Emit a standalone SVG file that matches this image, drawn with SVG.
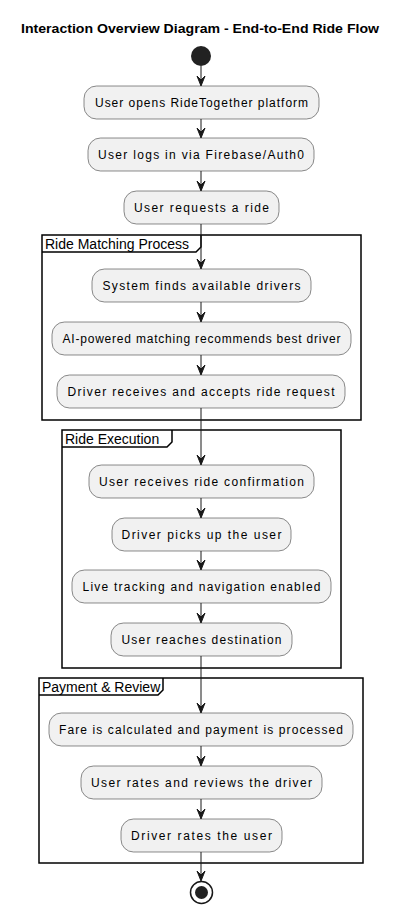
<svg xmlns="http://www.w3.org/2000/svg" width="403" height="916" viewBox="0 0 403 916">
<defs>
<style>
.bg{fill:#ffffff}
.title{font-family:"Liberation Sans",Arial,sans-serif;font-size:13px;font-weight:bold;fill:#000}
.act rect{fill:#F1F1F1;stroke:#181818;stroke-width:0.5}
.act text{font-family:"Liberation Sans",Arial,sans-serif;font-size:12px;fill:#000;text-anchor:middle}
.frame rect{fill:none;stroke:#000;stroke-width:1.5}
.frame polyline{fill:none;stroke:#000;stroke-width:1.5}
.frame text{font-family:"Liberation Sans",Arial,sans-serif;font-size:14px;fill:#000}
.conn line{stroke:#181818;stroke-width:1}
.conn path{fill:#181818;stroke:#181818;stroke-width:1}
</style>
</defs>
<rect class="bg" x="0" y="0" width="403" height="916"/>
<text class="title" x="21" y="33" textLength="358" lengthAdjust="spacingAndGlyphs">Interaction Overview Diagram - End-to-End Ride Flow</text>

<g id="frame-matching" class="frame">
<rect x="42" y="235" width="319" height="185"/>
<polyline points="42,252 196,252 201,247 201,235"/>
<text x="45" y="249">Ride Matching Process</text>
</g>
<g id="frame-execution" class="frame">
<rect x="62" y="430" width="279" height="238"/>
<polyline points="62,447 167,447 172,442 172,430"/>
<text x="65" y="444">Ride Execution</text>
</g>
<g id="frame-payment" class="frame">
<rect x="39" y="678" width="324" height="185"/>
<polyline points="39,695 158,695 163,690 163,678"/>
<text x="42" y="692">Payment &amp; Review</text>
</g>

<g id="start"><circle cx="201" cy="56" r="10" fill="#222222"/></g>

<g id="a1" class="act"><rect x="84" y="86" width="235" height="33" rx="12.5"/><text x="201.5" y="107" textLength="213" lengthAdjust="spacing">User opens RideTogether platform</text></g>
<g id="a2" class="act"><rect x="88" y="138" width="226" height="33" rx="12.5"/><text x="201" y="159" textLength="206" lengthAdjust="spacing">User logs in via Firebase/Auth0</text></g>
<g id="a3" class="act"><rect x="124" y="191" width="155" height="33" rx="12.5"/><text x="201.5" y="212" textLength="135" lengthAdjust="spacing">User requests a ride</text></g>

<g id="a4" class="act"><rect x="92" y="269" width="219" height="33" rx="12.5"/><text x="201.5" y="290" textLength="198" lengthAdjust="spacing">System finds available drivers</text></g>
<g id="a5" class="act"><rect x="52" y="322" width="299" height="33" rx="12.5"/><text x="201.5" y="343" textLength="278" lengthAdjust="spacing">AI-powered matching recommends best driver</text></g>
<g id="a6" class="act"><rect x="57" y="375" width="288" height="33" rx="12.5"/><text x="201" y="396" textLength="267" lengthAdjust="spacing">Driver receives and accepts ride request</text></g>

<g id="a7" class="act"><rect x="89" y="465" width="225" height="33" rx="12.5"/><text x="201.5" y="486" textLength="205" lengthAdjust="spacing">User receives ride confirmation</text></g>
<g id="a8" class="act"><rect x="112" y="518" width="179" height="33" rx="12.5"/><text x="201.5" y="539" textLength="160" lengthAdjust="spacing">Driver picks up the user</text></g>
<g id="a9" class="act"><rect x="72" y="570" width="259" height="33" rx="12.5"/><text x="201.5" y="591" textLength="238" lengthAdjust="spacing">Live tracking and navigation enabled</text></g>
<g id="a10" class="act"><rect x="111" y="623" width="181" height="33" rx="12.5"/><text x="201.5" y="644" textLength="160" lengthAdjust="spacing">User reaches destination</text></g>

<g id="a11" class="act"><rect x="49" y="713" width="304" height="33" rx="12.5"/><text x="201" y="734" textLength="284" lengthAdjust="spacing">Fare is calculated and payment is processed</text></g>
<g id="a12" class="act"><rect x="81" y="766" width="241" height="33" rx="12.5"/><text x="201.5" y="787" textLength="221" lengthAdjust="spacing">User rates and reviews the driver</text></g>
<g id="a13" class="act"><rect x="121" y="819" width="161" height="33" rx="12.5"/><text x="201.5" y="840" textLength="141" lengthAdjust="spacing">Driver rates the user</text></g>

<g id="end"><circle cx="201.5" cy="892.5" r="11" fill="#ffffff" stroke="#181818" stroke-width="1.5"/><circle cx="201.5" cy="892.5" r="6.5" fill="#222222"/></g>

<g id="connectors" class="conn">
<line x1="201" y1="66" x2="201" y2="85"/><path d="M197,76 L201,86 L205,76 L201,80 Z"/>
<line x1="201" y1="119" x2="201" y2="137"/><path d="M197,128 L201,138 L205,128 L201,132 Z"/>
<line x1="201" y1="171" x2="201" y2="190"/><path d="M197,181 L201,191 L205,181 L201,185 Z"/>
<line x1="201" y1="224" x2="201" y2="268"/><path d="M197,259 L201,269 L205,259 L201,263 Z"/>
<line x1="201" y1="302" x2="201" y2="321"/><path d="M197,312 L201,322 L205,312 L201,316 Z"/>
<line x1="201" y1="355" x2="201" y2="374"/><path d="M197,365 L201,375 L205,365 L201,369 Z"/>
<line x1="201" y1="408" x2="201" y2="464"/><path d="M197,455 L201,465 L205,455 L201,459 Z"/>
<line x1="201" y1="498" x2="201" y2="517"/><path d="M197,508 L201,518 L205,508 L201,512 Z"/>
<line x1="201" y1="551" x2="201" y2="569"/><path d="M197,560 L201,570 L205,560 L201,564 Z"/>
<line x1="201" y1="603" x2="201" y2="622"/><path d="M197,613 L201,623 L205,613 L201,617 Z"/>
<line x1="201" y1="656" x2="201" y2="712"/><path d="M197,703 L201,713 L205,703 L201,707 Z"/>
<line x1="201" y1="746" x2="201" y2="765"/><path d="M197,756 L201,766 L205,756 L201,760 Z"/>
<line x1="201" y1="799" x2="201" y2="818"/><path d="M197,809 L201,819 L205,809 L201,813 Z"/>
<line x1="201" y1="852" x2="201" y2="880"/><path d="M197,871 L201,881 L205,871 L201,875 Z"/>
</g>
</svg>
